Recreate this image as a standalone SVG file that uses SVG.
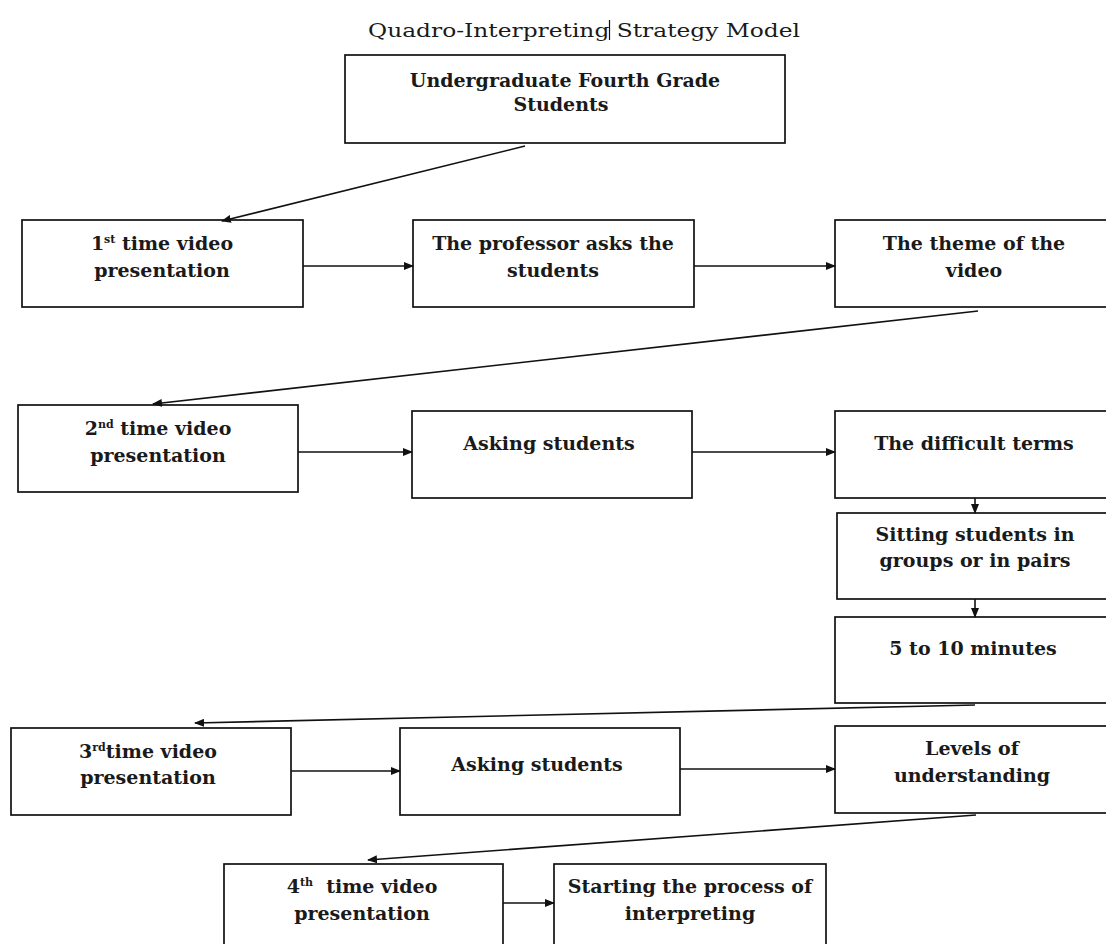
<svg xmlns="http://www.w3.org/2000/svg" width="1106" height="944" viewBox="0 0 1106 944">
<style>
.box{fill:#fff;stroke:#111;stroke-width:1.7}
.t{font-family:"DejaVu Serif","Liberation Serif",serif;font-weight:bold;font-size:19px;fill:#1a1a1a;text-anchor:middle}
.title{font-family:"DejaVu Serif","Liberation Serif",serif;font-size:19px;fill:#1a1a1a}
.sup{font-size:11px}
.pre{white-space:pre}
.c{fill:none;stroke:#111;stroke-width:1.6;marker-end:url(#ah)}
</style>
<defs>
<marker id="ah" markerUnits="userSpaceOnUse" markerWidth="10" markerHeight="8" refX="9" refY="4" orient="auto">
<path d="M0,0 L10,4 L0,8 z" fill="#111"/>
</marker>
</defs>
<rect width="1106" height="944" fill="#fff"/>
<g id="title">
<text class="title" x="368" y="37" textLength="432" lengthAdjust="spacingAndGlyphs">Quadro-Interpreting Strategy Model</text>
<line x1="609.5" y1="20" x2="609.5" y2="40" stroke="#111" stroke-width="1.2"/>
</g>
<g id="n0"><rect class="box" x="345" y="55" width="440" height="88"/>
<text class="t" x="565" y="87">Undergraduate Fourth Grade</text>
<text class="t" x="561" y="111">Students</text></g>
<g id="n1"><rect class="box" x="22" y="220" width="281" height="87"/>
<text class="t" x="162" y="250">1<tspan class="sup" dy="-7">st</tspan><tspan dy="7"> time video</tspan></text>
<text class="t" x="162" y="277">presentation</text></g>
<g id="n2"><rect class="box" x="413" y="220" width="281" height="87"/>
<text class="t" x="553" y="250">The professor asks the</text>
<text class="t" x="553" y="277">students</text></g>
<g id="n3"><rect class="box" x="835" y="220" width="280" height="87"/>
<text class="t" x="974" y="250">The theme of the</text>
<text class="t" x="974" y="277">video</text></g>
<g id="n4"><rect class="box" x="18" y="405" width="280" height="87"/>
<text class="t" x="158" y="435">2<tspan class="sup" dy="-7">nd</tspan><tspan dy="7"> time video</tspan></text>
<text class="t" x="158" y="462">presentation</text></g>
<g id="n5"><rect class="box" x="412" y="411" width="280" height="87"/>
<text class="t" x="549" y="450">Asking students</text></g>
<g id="n6"><rect class="box" x="835" y="411" width="280" height="87"/>
<text class="t" x="974" y="450">The difficult terms</text></g>
<g id="n7"><rect class="box" x="837" y="513" width="278" height="86"/>
<text class="t" x="975" y="541">Sitting students in</text>
<text class="t" x="975" y="567">groups or in pairs</text></g>
<g id="n8"><rect class="box" x="835" y="617" width="280" height="86"/>
<text class="t" x="973" y="655">5 to 10 minutes</text></g>
<g id="n9"><rect class="box" x="11" y="728" width="280" height="87"/>
<text class="t" x="148" y="758">3<tspan class="sup" dy="-7">rd</tspan><tspan dy="7">time video</tspan></text>
<text class="t" x="148" y="784">presentation</text></g>
<g id="n10"><rect class="box" x="400" y="728" width="280" height="87"/>
<text class="t" x="537" y="771">Asking students</text></g>
<g id="n11"><rect class="box" x="835" y="726" width="280" height="87"/>
<text class="t" x="972" y="755">Levels of</text>
<text class="t" x="972" y="782">understanding</text></g>
<g id="n12"><rect class="box" x="224" y="864" width="279" height="90"/>
<text class="t pre" x="362" y="893">4<tspan class="sup" dy="-7">th</tspan><tspan dy="7">  time video</tspan></text>
<text class="t" x="362" y="920">presentation</text></g>
<g id="n13"><rect class="box" x="554" y="864" width="272" height="90"/>
<text class="t" x="690" y="893">Starting the process of</text>
<text class="t" x="690" y="920">interpreting</text></g>
<g id="connectors">
<line class="c" x1="525" y1="146" x2="222" y2="221"/>
<line class="c" x1="303" y1="266" x2="413" y2="266"/>
<line class="c" x1="694" y1="266" x2="835" y2="266"/>
<line class="c" x1="978" y1="311" x2="153" y2="404"/>
<line class="c" x1="298" y1="452" x2="412" y2="452"/>
<line class="c" x1="692" y1="452" x2="835" y2="452"/>
<line class="c" x1="975" y1="498" x2="975" y2="513"/>
<line class="c" x1="975" y1="599" x2="975" y2="617"/>
<line class="c" x1="975" y1="705" x2="195" y2="723"/>
<line class="c" x1="291" y1="771" x2="400" y2="771"/>
<line class="c" x1="680" y1="769" x2="835" y2="769"/>
<line class="c" x1="976" y1="815" x2="368" y2="860"/>
<line class="c" x1="503" y1="903" x2="554" y2="903"/>
</g>
</svg>
